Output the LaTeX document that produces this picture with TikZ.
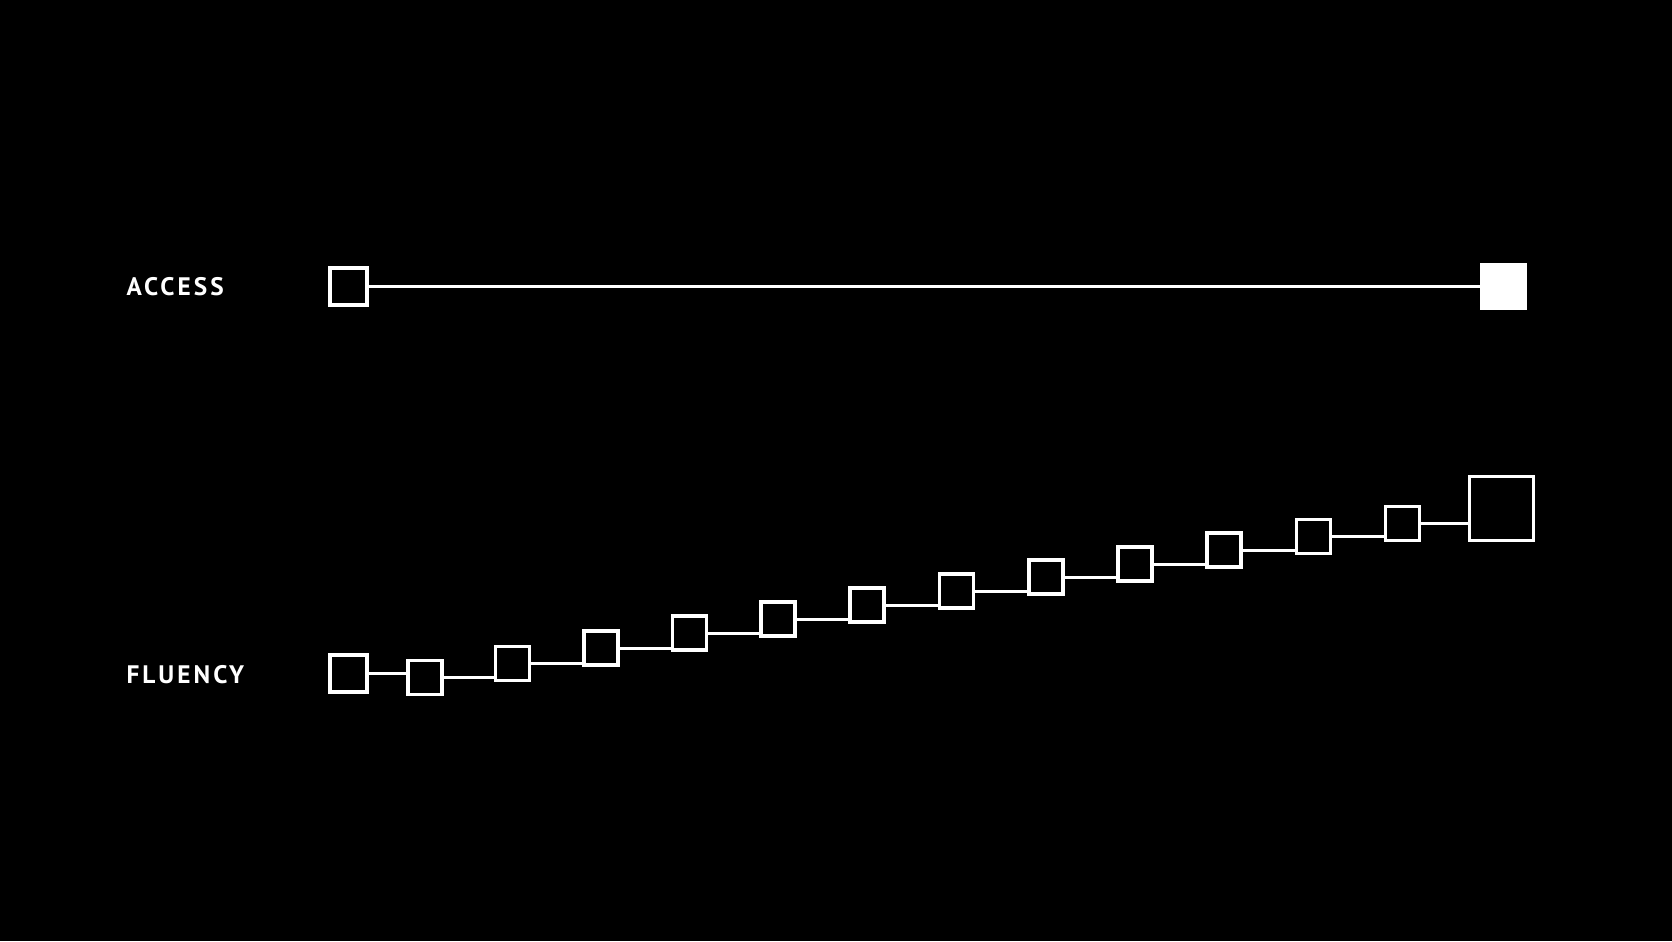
\documentclass[tikz,border=0pt]{standalone}
\usepackage{fontspec}
\newfontfamily\rowfont[LetterSpace=12]{PT Sans Bold}
\begin{document}
\begin{tikzpicture}[x=0.01cm,y=-0.01cm,white,line width=0.03cm,
  box/.style={draw,line width=0.035cm,inner sep=0pt,minimum size=0.34cm},
  rowlabel/.style={anchor=base west,inner sep=0pt,font=\rowfont\fontsize{7.2pt}{8pt}\selectfont}]
\fill[black] (0,0) rectangle (1672,941);
% access row
\node[rowlabel] (access) at (125,295) {ACCESS};
\node[box,minimum size=0.37cm] (a0) at (348.5,286.5) {};
\node[box,fill,minimum size=0.43cm] (a1) at (1503.5,286.5) {};
\path (a0) edge (a1);
% fluency row
\node[rowlabel] (fluency) at (125,683) {FLUENCY};
\node[box,minimum size=0.37cm] (f1) at (348.5,673.5) {};
\foreach \x/\y [count=\i from 2] in {425/677.5,512.5/663.5,601/648,689.5/633,
  778/619,867/605,956.5/591,1046/577,1135/564,1224/550,1313.5/536.5,1402.5/523.5}
  \node[box] (f\i) at (\x,\y) {};
\node[box,minimum size=0.64cm] (f14) at (1501.5,508.5) {};
\foreach \i [evaluate=\i as \j using int(\i+1)] in {1,...,13}
  \draw (f\i.east) -- (f\i.east -| f\j.west);
\end{tikzpicture}
\end{document}
